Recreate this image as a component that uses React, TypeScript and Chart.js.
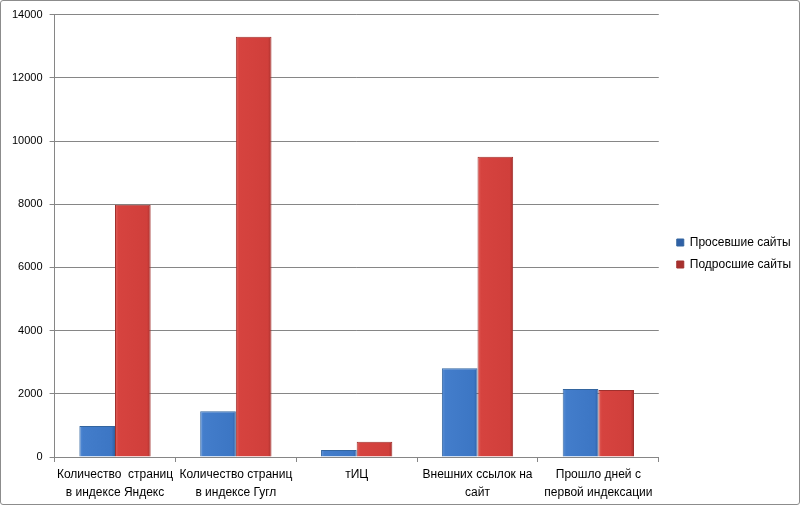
import React, { useEffect, useRef } from "react";
import { Chart, registerables } from "chart.js";

Chart.register(...registerables);

const categories: string[][] = [
  ["Количество  страниц", "в индексе Яндекс"],
  ["Количество страниц", "в индексе Гугл"],
  ["тИЦ"],
  ["Внешних ссылок на", "сайт"],
  ["Прошло дней с", "первой индексации"],
];
const seriesNames = ["Просевшие сайты", "Подросшие сайты"];
const fallenSites = [980, 1450, 220, 2810, 2150];
const grownSites = [7980, 13300, 480, 9500, 2120];
const yTicks = [0, 2000, 4000, 6000, 8000, 10000, 12000, 14000];

const CAT_PCT = 0.59;
const BAR_PCT = 1;

function makeGradient(stops: [number, string][]) {
  return (ctx: any) => {
    const chart = ctx.chart;
    const xs = chart.scales?.x;
    if (!xs || ctx.type !== "data") return stops[1][1];
    const n = categories.length;
    const center = xs.getPixelForValue(ctx.dataIndex);
    const catW = xs.width / n;
    const barW = (catW * CAT_PCT * BAR_PCT) / 2;
    const left = ctx.datasetIndex === 0 ? center - barW : center;
    if (!isFinite(left)) return stops[1][1];
    const g = chart.ctx.createLinearGradient(left, 0, left + barW, 0);
    stops.forEach(([o, c]) => g.addColorStop(o, c));
    return g;
  };
}

const legendShift = {
  id: "legendShift",
  afterLayout(chart: any) {
    const lg = chart.legend;
    if (lg) {
      lg.left += 8;
      lg.right += 8;
    }
  },
};

export default function App() {
  const ref = useRef<HTMLCanvasElement | null>(null);
  useEffect(() => {
    document.body.style.margin = "0";
    if (!ref.current) return;
    const font = { family: "Liberation Sans", size: 12 };
    const chart = new Chart(ref.current, {
      type: "bar",
      plugins: [legendShift],
      data: {
        labels: categories,
        datasets: [
          {
            label: seriesNames[0],
            data: fallenSites,
            backgroundColor: makeGradient([
              [0, "#5a8fd6"],
              [0.1, "#437dcb"],
              [0.9, "#3c76c4"],
              [1, "#2f60a6"],
            ]),
            borderColor: "#33659f",
            borderWidth: 1,
            categoryPercentage: CAT_PCT,
            barPercentage: BAR_PCT,
          },
          {
            label: seriesNames[1],
            data: grownSites,
            backgroundColor: makeGradient([
              [0, "#e0605b"],
              [0.1, "#d6433f"],
              [0.9, "#d03f3b"],
              [1, "#a8302d"],
            ]),
            borderColor: "#a0302d",
            borderWidth: 1,
            categoryPercentage: CAT_PCT,
            barPercentage: BAR_PCT,
          },
        ],
      },
      options: {
        animation: false,
        responsive: true,
        maintainAspectRatio: false,
        layout: { padding: { top: 0, left: 4, right: 6, bottom: -2 } },
        plugins: {
          tooltip: { enabled: false },
          legend: {
            position: "right",
            labels: {
              boxWidth: 7,
              boxHeight: 7,
              padding: 10,
              color: "#000",
              font,
            },
          },
        },
        scales: {
          x: {
            grid: {
              display: true,
              drawOnChartArea: false,
              drawTicks: true,
              tickLength: 5,
              color: "#868686",
            },
            border: { color: "#868686" },
            ticks: {
              color: "#000",
              font: { ...font, lineHeight: 1.5 },
              maxRotation: 0,
              autoSkip: false,
              padding: 4,
            },
          },
          y: {
            min: 0,
            max: 14000,
            afterBuildTicks: (axis: any) => {
              axis.ticks = yTicks.map((v) => ({ value: v }));
            },
            grid: { color: "#868686", tickLength: 5 },
            border: { color: "#868686" },
            ticks: {
              color: "#000",
              font: { family: "Liberation Sans", size: 11 },
              padding: 7,
              callback: (v: any) => String(v),
            },
          },
        },
      },
    });
    return () => chart.destroy();
  }, []);
  return (
    <div
      style={{
        width: 800,
        height: 505,
        boxSizing: "border-box",
        border: "1px solid #8c8c8c",
        borderRadius: 3,
        background: "#fff",
        position: "relative",
        overflow: "hidden",
      }}
    >
      <canvas ref={ref} />
    </div>
  );
}
